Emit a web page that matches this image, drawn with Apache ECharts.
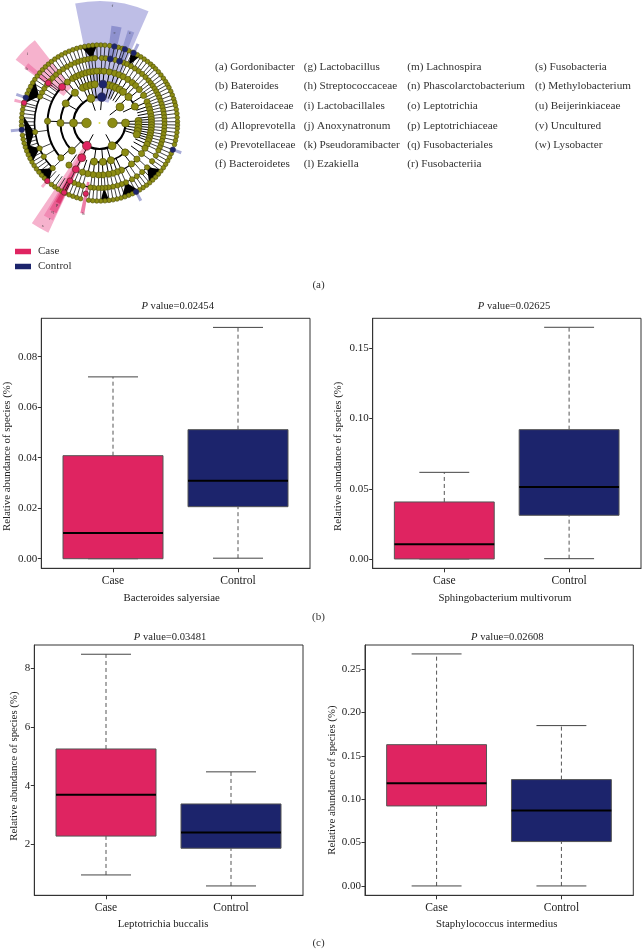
<!DOCTYPE html>
<html><head><meta charset="utf-8">
<style>html,body{margin:0;padding:0;background:#fff}#c{width:642px;height:949px}</style>
<script src="https://cdn.jsdelivr.net/npm/echarts@6/dist/echarts.min.js"></script>
</head><body><div id="c"></div>
<script>
const categories = ['Case', 'Control'];
const pinkFill = '#df2461', navyFill = '#1c246c';

// box rows: [min, q1, median, q3, max]
const salyersiaeCase = [0, 0, 0.0102, 0.0408, 0.072];
const salyersiaeControl = [0.0002, 0.0206, 0.0309, 0.0511, 0.0916];
const multivorumCase = [0, 0, 0.0104, 0.0406, 0.0617];
const multivorumControl = [0.0002, 0.0311, 0.0513, 0.0921, 0.165];
const buccalisCase = [0.955, 2.28, 3.69, 5.25, 8.48];
const buccalisControl = [0.58, 1.865, 2.40, 3.375, 4.47];
const intermediusCase = [0, 0.0923, 0.1185, 0.163, 0.2677];
const intermediusControl = [0, 0.0512, 0.0869, 0.1227, 0.185];

const ticks1 = [0, 0.02, 0.04, 0.06, 0.08];
const ticks2 = [0, 0.05, 0.10, 0.15];
const ticks3 = [2, 4, 6, 8];
const ticks4 = [0, 0.05, 0.10, 0.15, 0.20, 0.25];

// cladogram nodes: angle in degrees clockwise from the top, per ring radius
const ring13 = [90, 270];
const ring26 = [341, 52, 90, 151, 270];
const ring39 = [321, 335, 341, 347, 353, 14, 20, 25, 31, 37, 48, 65, 87, 92, 97, 102, 107, 139, 163, 175, 188, 225, 270, 300];
const ring52 = [0, 5, 11, 17, 22, 27, 33, 39, 44, 50, 58, 66, 71, 75, 79, 83, 86, 89, 92, 95, 98, 101, 104, 107, 110, 114, 119, 126, 134, 142, 155, 160, 165, 170, 176, 181, 187, 193, 199, 216, 228, 272, 322, 329, 333, 337, 341, 345, 349, 353, 357];
const ring65 = [2, 5.5, 14, 22, 25, 29, 33, 37, 41, 45, 49, 52, 55, 58, 61, 64, 67, 70, 73, 76, 79, 82, 85, 88, 91, 94, 97, 100, 103, 106, 109, 112, 115, 120, 126, 133, 139, 145, 150, 156, 160, 164, 168, 172, 175, 178, 181, 185, 188, 195, 199, 203, 226, 239, 247, 262, 294, 298, 302, 306, 310, 314, 318, 322, 326, 330, 334, 338, 341, 344, 347, 350, 353, 356];
const ring78 = [1, 4, 7.5, 14, 17, 22, 25, 29, 32, 35, 38, 41, 43.5, 46, 49, 52, 55, 58, 60.5, 63, 66, 69, 72, 74.5, 77, 80, 83, 86, 89, 91.5, 94, 97, 100, 103, 106, 113, 116, 119, 122, 125, 128, 131, 134, 137, 140, 143, 146, 149, 155, 158, 161, 164, 167, 170, 173, 176, 179, 182, 185, 188, 194, 197, 200, 203, 206, 209, 212, 215, 218, 225, 228, 231, 234, 237, 240, 243, 246, 249, 252, 255, 258, 261, 268, 271, 274, 277, 280, 283, 292, 295, 298, 301, 304, 307, 310, 313, 316, 319, 322, 325, 328, 331, 334, 337, 340, 343, 346, 349, 352, 355, 358];

// highlighted nodes: [ring radius, angle]
const caseNodes = [[26, 209], [39, 207], [52, 207], [65, 207], [78, 207], [52, 314], [65, 308], [78, 285], [78, 222], [72, 191]];
const controlNodes = [[26, 5], [39, 5], [65, 9.6], [78, 11], [65, 18], [78, 19], [78, 26], [78, 289], [78, 265], [78, 110], [78, 152]];

// shaded clades: [inner, outer, from angle, to angle, colour]
const cladeShades = [
  [22, 122, 348.5, 383.7, 'rgba(150,150,215,0.62)'],
  [64, 98, 7, 13, 'rgba(110,115,190,0.6)'],
  [64, 97, 17, 21, 'rgba(110,115,190,0.5)'],
  [77, 88, 25, 27, 'rgba(110,115,190,0.6)'],
  [45, 105, 307, 322, 'rgba(240,130,175,0.62)'],
  [60, 93, 306, 310, 'rgba(235,90,150,0.5)'],
  [26, 121, 205, 214, 'rgba(240,130,175,0.62)'],
  [38, 108, 205.5, 211, 'rgba(235,90,150,0.45)'],
  [50, 100, 205.5, 210, 'rgba(225,50,110,0.5)'],
  [62, 90, 206, 209, 'rgba(210,30,90,0.6)'],
  [60, 92, 189.5, 192, 'rgba(230,70,130,0.7)'],
  [77, 86, 221, 223, 'rgba(240,130,175,0.6)'],
  [77, 89, 264, 266, 'rgba(110,115,190,0.6)'],
  [77, 88, 284, 286, 'rgba(240,130,175,0.7)'],
  [77, 88, 288, 290, 'rgba(110,115,190,0.6)'],
  [77, 87, 109, 111, 'rgba(110,115,190,0.6)'],
  [77, 88, 151, 153, 'rgba(110,115,190,0.6)']
];

// arcs of the tree: [radius, from angle, to angle, width]
const treeArcs = [
  [26, 90, 365, 2.2], [39, 225, 321, 2], [39, 139, 188, 1.6], [39, 5, 65, 1.6], [39, 87, 107, 1],
  [52, 228, 329, 2], [52, 134, 155, 1.4], [52, 165, 199, 1], [52, 329, 367, 1], [52, 66, 126, 1],
  [65, 226, 262, 1.6], [65, 262, 294, 1.6], [65, 294, 368, 1], [65, 14, 112, 1], [65, 133, 205, 1]
];
// solid fans: [inner radius, outer radius, apex angle, base from, base to]
const treeFans = [
  [66, 77, 262, 248, 276], [66, 77, 294, 285, 303], [65, 77, 133, 127, 140], [65, 77, 156, 150, 163],
  [65, 77, 226, 221, 233], [65, 77, 247, 240, 254], [65, 77, 353, 347, 358], [65, 77, 27, 24, 31], [65, 77, 176, 173, 179]
];

const cladeLabels = [['f', 118, 6.3], ['c', 92, 9.4], ['e', 95, 18.8], ['i', 100, 314], ['h', 91, 307],
  ['s', 117, 209], ['r', 108, 207.5], ['q', 100, 208], ['p', 92, 207.5], ['k', 92, 190]];

const taxaColumns = [
  ['(a) Gordonibacter', '(b) Bateroides', '(c) Bateroidaceae', '(d) Alloprevotella', '(e) Prevotellaceae', '(f) Bacteroidetes'],
  ['(g) Lactobacillus', '(h) Streptococcaceae', '(i) Lactobacillales', '(j) Anoxynatronum', '(k) Pseudoramibacter', '(l) Ezakiella'],
  ['(m) Lachnospira', '(n) Phascolarctobacterium', '(o) Leptotrichia', '(p) Leptotrichiaceae', '(q) Fusobacteriales', '(r) Fusobacteriia'],
  ['(s) Fusobacteria', '(t) Methylobacterium', '(u) Beijerinkiaceae', '(v) Uncultured', '(w) Lysobacter']
];
const taxaX = [215, 303.7, 407.3, 535];
const taxaY = [67.3, 86, 105.7, 126, 145.3, 164];

const serif = '"Liberation Serif", serif';
const ink = '#333';

const panels = [
  { caseBox: salyersiaeCase, controlBox: salyersiaeControl, ticks: ticks1, dec: 2, name: 'Bacteroides salyersiae', p: '0.02454',
    left: 41.3, top: 318.3, width: 268.7, height: 250, ymin: -0.0038, ymax: 0.0952, tx: 177.7, ty: 301, nameShift: 8, nameGap: 24, yGap: 28.6, yShift: 13 },
  { caseBox: multivorumCase, controlBox: multivorumControl, ticks: ticks2, dec: 2, name: 'Sphingobacterium multivorum', p: '0.02625',
    left: 372.7, top: 318.3, width: 268.3, height: 250, ymin: -0.00665, ymax: 0.1714, tx: 514, ty: 301, nameShift: 4, nameGap: 24, yGap: 29, yShift: 13 },
  { caseBox: buccalisCase, controlBox: buccalisControl, ticks: ticks3, dec: 0, name: 'Leptotrichia buccalis', p: '0.03481',
    left: 34.3, top: 645, width: 268.7, height: 250.3, ymin: 0.261, ymax: 8.795, tx: 170, ty: 631.5, nameShift: 11, nameGap: 23, yGap: 14.6, yShift: -4 },
  { caseBox: intermediusCase, controlBox: intermediusControl, ticks: ticks4, dec: 2, name: 'Staphylococcus intermedius', p: '0.02608',
    left: 365, top: 645, width: 268.3, height: 250.3, ymin: -0.0108, ymax: 0.278, tx: 507.3, ty: 631.5, nameShift: 5, nameGap: 23, yGap: 27.5, yShift: 10 }
];

function renderBox(params, api) {
  const x = api.value(0), mn = api.value(1), q1 = api.value(2), md = api.value(3), q3 = api.value(4), mx = api.value(5);
  const fill = x === 1 ? pinkFill : navyFill;
  const P = (a, b) => api.coord([a, b]);
  const seg = (a, b, c, d, st) => ({ type: 'line', shape: { x1: P(a, b)[0], y1: P(a, b)[1], x2: P(c, d)[0], y2: P(c, d)[1] }, style: st });
  const whisk = { stroke: '#555', lineWidth: 1, lineDash: [4, 3] };
  const cap = { stroke: '#444', lineWidth: 1 };
  const tl = P(x - 0.4, q3), br = P(x + 0.4, q1);
  return { type: 'group', children: [
    seg(x, q3, x, mx, whisk), seg(x, mn, x, q1, whisk),
    seg(x - 0.2, mx, x + 0.2, mx, cap), seg(x - 0.2, mn, x + 0.2, mn, cap),
    { type: 'rect', shape: { x: tl[0], y: tl[1], width: br[0] - tl[0], height: br[1] - tl[1] }, style: { fill: fill, stroke: '#555', lineWidth: 1 } },
    seg(x - 0.4, md, x + 0.4, md, { stroke: '#000', lineWidth: 2 })
  ] };
}

const polarRing = (r) => (r <= 13 ? 9.5 : r <= 26 ? 8 : r <= 39 ? 7.2 : r <= 52 ? 6.2 : r <= 65 ? 5.2 : 4.6);

function sectorOf(params, api, r0, r1, a0, a1) {
  const cs = params.coordSys;
  const p = api.coord([r1, a0]), q = api.coord([Math.max(r0, 1), a0]);
  const start = Math.atan2(p[1] - cs.cy, p[0] - cs.cx);
  return { cx: cs.cx, cy: cs.cy, r: Math.hypot(p[0] - cs.cx, p[1] - cs.cy), r0: Math.hypot(q[0] - cs.cx, q[1] - cs.cy),
    startAngle: start, endAngle: start + (a1 - a0) * Math.PI / 180, clockwise: true };
}

const series = [];
// shades
series.push({ type: 'custom', coordinateSystem: 'polar', silent: true, z: 1, data: cladeShades.map((d, i) => [d[0], d[2], i]),
  renderItem(params, api) {
    const d = cladeShades[api.value(2)];
    return { type: 'sector', shape: sectorOf(params, api, d[0], d[1], d[2], d[3]), style: { fill: d[4], stroke: null } };
  } });
// arcs
series.push({ type: 'custom', coordinateSystem: 'polar', silent: true, z: 3, data: treeArcs.map((d, i) => [d[0], d[1], i]),
  renderItem(params, api) {
    const d = treeArcs[api.value(2)];
    const s = sectorOf(params, api, d[0], d[0], d[1], d[2]);
    return { type: 'arc', shape: { cx: s.cx, cy: s.cy, r: s.r, startAngle: s.startAngle, endAngle: s.endAngle, clockwise: true },
      style: { fill: null, stroke: '#000', lineWidth: d[3] } };
  } });
// fans
series.push({ type: 'custom', coordinateSystem: 'polar', silent: true, z: 3, data: treeFans.map((d, i) => [d[0], d[2], i]),
  renderItem(params, api) {
    const d = treeFans[api.value(2)];
    const pts = [api.coord([d[0], d[2]]), api.coord([d[1], d[3]]), api.coord([d[1], d[4]])];
    return { type: 'polygon', shape: { points: pts }, style: { fill: '#000' } };
  } });
// spokes, from every node back to the ring inside it
const rings = [[13, ring13], [26, ring26], [39, ring39], [52, ring52], [65, ring65], [78, ring78]];
const spokes = [];
rings.forEach(([r, arr]) => { if (r > 13) arr.forEach(a => spokes.push([r - 13, r, a])); });
caseNodes.concat(controlNodes).forEach(([r, a]) => { if (r !== 72) spokes.push([r - 13, r, a]); });
series.push({ type: 'custom', coordinateSystem: 'polar', silent: true, z: 4, data: spokes.map(d => [d[0], d[2], d[1]]),
  renderItem(params, api) {
    const a = api.value(1), p = api.coord([api.value(0), a]), q = api.coord([api.value(2), a]);
    const w = api.value(2) > 52 ? 0.75 : 1;
    return { type: 'line', shape: { x1: p[0], y1: p[1], x2: q[0], y2: q[1] }, style: { stroke: '#000', lineWidth: w } };
  } });
// nodes
rings.forEach(([r, arr]) => series.push({ type: 'scatter', coordinateSystem: 'polar', silent: true, z: 5, symbolSize: polarRing(r),
  data: arr.map(a => [r, a]), itemStyle: { color: '#8c8c14', borderColor: '#4c4c04', borderWidth: 0.6, opacity: 1 } }));
series.push({ name: 'Case', type: 'scatter', coordinateSystem: 'polar', silent: true, z: 6, symbolSize: v => polarRing(v[0]) + 0.8,
  data: caseNodes, itemStyle: { color: pinkFill, borderColor: '#5e2a20', borderWidth: 0.7, opacity: 1 } });
series.push({ name: 'Control', type: 'scatter', coordinateSystem: 'polar', silent: true, z: 6, symbolSize: v => polarRing(v[0]) + 0.8,
  data: controlNodes, itemStyle: { color: navyFill, borderColor: '#2c2c50', borderWidth: 0.7, opacity: 1 } });
// root dot and clade letters
series.push({ type: 'scatter', coordinateSystem: 'polar', silent: true, z: 6, symbolSize: 2, data: [[0, 0]], itemStyle: { color: '#d8d820' } });
series.push({ type: 'scatter', coordinateSystem: 'polar', silent: true, z: 7, symbolSize: 0,
  data: cladeLabels.map(d => ({ name: d[0], value: [d[1], d[2]] })),
  label: { show: true, position: 'inside', formatter: '{b}', fontFamily: serif, fontSize: 5, color: '#333' } });

const grid = [], xAxis = [], yAxis = [], title = [];
panels.forEach((p, i) => {
  grid.push({ left: p.left, top: p.top, width: p.width, height: p.height, show: true, borderColor: ink, borderWidth: 1, backgroundColor: 'transparent', outerBoundsMode: 'none' });
  xAxis.push({ gridIndex: i, type: 'value', min: 0.4264, max: 2.576, splitLine: { show: false },
    axisLine: { show: true, onZero: false, lineStyle: { color: ink } },
    axisTick: { show: true, length: 4, inside: false, lineStyle: { color: ink }, customValues: [1, 2] },
    axisLabel: { color: '#222', fontFamily: serif, fontSize: 11.6, margin: 7, customValues: [1, 2], formatter: v => categories[Math.round(v) - 1] },
    name: p.name, nameLocation: 'middle', nameGap: p.nameGap,
    nameTextStyle: { color: '#222', fontFamily: serif, fontSize: 10.8, padding: [0, p.nameShift, 0, 0] } });
  yAxis.push({ gridIndex: i, type: 'value', min: p.ymin, max: p.ymax, splitLine: { show: false },
    axisLine: { show: true, onZero: false, lineStyle: { color: ink } },
    axisTick: { show: true, length: 3.5, inside: false, lineStyle: { color: ink }, customValues: p.ticks },
    axisLabel: { color: '#222', fontFamily: serif, fontSize: 11, margin: 4, customValues: p.ticks, formatter: v => v.toFixed(p.dec) },
    name: 'Relative abundance of species (%)', nameLocation: 'middle', nameGap: p.yGap,
    nameTextStyle: { color: '#222', fontFamily: serif, fontSize: 10.8, padding: p.yShift > 0 ? [0, 2 * p.yShift, 0, 0] : [0, 0, 0, -2 * p.yShift] } });
  title.push({ text: '{i|P} value=' + p.p, left: p.tx, top: p.ty, textAlign: 'center', padding: 0,
    textStyle: { fontFamily: serif, fontSize: 10.6, fontWeight: 'normal', color: '#222', rich: { i: { fontStyle: 'italic', fontFamily: serif, fontSize: 10.6, color: '#222' } } } });
  series.push({ type: 'custom', xAxisIndex: i, yAxisIndex: i, coordinateSystem: 'cartesian2d', silent: true, z: 3, renderItem: renderBox, clip: false,
    encode: { x: 0, y: [1, 2, 3, 4, 5] }, data: [[1, ...p.caseBox], [2, ...p.controlBox]] });
});

const graphic = [];
taxaColumns.forEach((col, c) => col.forEach((t, r) => graphic.push({ type: 'text', x: taxaX[c], y: taxaY[r], style: { text: t, fontFamily: serif, fontSize: 11.2, fill: '#333', textVerticalAlign: 'middle' } })));
[['(a)', 285], ['(b)', 617.5], ['(c)', 943]].forEach(([t, y]) => graphic.push({ type: 'text', x: 318.5, y: y, style: { text: t, fontFamily: serif, fontSize: 11, fill: '#333', textAlign: 'center', textVerticalAlign: 'middle' } }));

const chart = echarts.init(document.getElementById('c'), null, { renderer: 'canvas' });
chart.setOption({
  animation: false, backgroundColor: '#fff', tooltip: { show: false },
  title, grid, xAxis, yAxis, graphic,
  polar: { center: [99.5, 123], radius: 130 },
  angleAxis: { type: 'value', min: 0, max: 360, startAngle: 90, show: false },
  radiusAxis: { type: 'value', min: 0, max: 130, show: false },
  legend: { data: ['Case', 'Control'], orient: 'vertical', left: 15, top: 246, itemWidth: 16, itemHeight: 5.5, itemGap: 4, icon: 'rect', selectedMode: false, padding: 0,
    itemStyle: { borderWidth: 0 },
    textStyle: { fontFamily: serif, fontSize: 11, color: '#333', padding: [0, 0, 0, 2] } },
  series
});
</script></body></html>
